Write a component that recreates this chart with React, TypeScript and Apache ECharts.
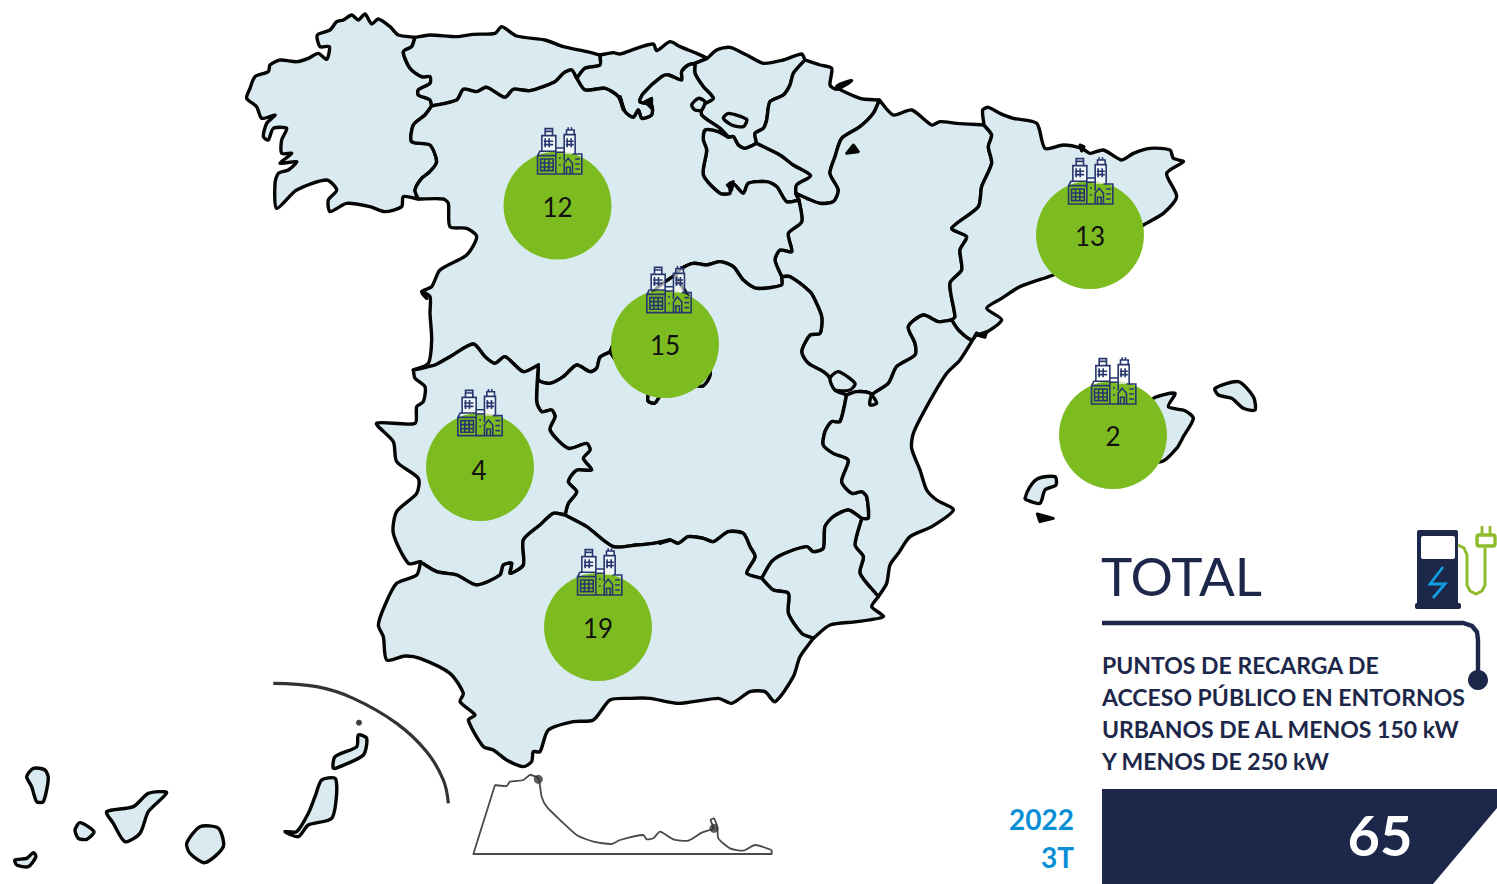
import React, { useEffect, useRef } from "react";
import * as echarts from "echarts";

type Pt = number[];
const at = (ox: number, oy: number, pts: number[][]): Pt[] => pts.map(([x, y]) => [ox + x / 3, oy + y / 3]);
const rev = (a: Pt[]) => [...a].reverse();

// ---------- values ----------
const regionNames = ["Castilla y León", "Comunidad de Madrid", "Cataluña", "Islas Baleares", "Extremadura", "Andalucía"];
const bubbleValues = [12, 15, 13, 2, 4, 19];
const bubbleX = [557.5, 665, 1090, 1113, 480, 598];
const bubbleY = [205.5, 344, 235, 435, 467, 627];
const iconX = [559.7, 669, 1090.7, 1113.7, 480, 599.7];
const iconY = [151, 289.7, 181, 381, 412.7, 572];
const totalValue = 65;
const periodLabels = ["2022", "3T"];
const titleLines = ["PUNTOS DE RECARGA DE", "ACCESO PÚBLICO EN ENTORNOS", "URBANOS DE AL MENOS 150 kW", "Y MENOS DE 250 kW"];

// ---------- map borders, traced in page-scaled crops ----------
const A = (p: number[][]) => at(230, 0, p);
const B = (p: number[][]) => at(620, 30, p);
const C = (p: number[][]) => at(930, 90, p);
const D = (p: number[][]) => at(360, 270, p);
const E = (p: number[][]) => at(660, 300, p);
const F = (p: number[][]) => at(360, 530, p);
const G = (p: number[][]) => at(0, 670, p);

const galCoast = A([[555,112],[505,105],[480,80],[445,57],[425,72],[405,42],[385,60],[365,45],[340,60],[320,65],[300,90],[262,105],[270,140],[298,140],[290,178],[265,160],[235,175],[200,185],[150,180],[120,195],[115,215],[75,230],[60,265],[50,295],[80,320],[95,355],[135,345],[110,370],[100,410],[115,420],[130,385],[170,385],[155,420],[155,460],[185,460],[150,490],[200,485],[175,510],[145,520],[135,550],[140,625],[200,570],[290,540],[320,570],[295,600],[300,635],[350,610],[420,620],[465,635],[515,620],[520,590],[565,597]]);
const galAst = A([[555,112],[545,140],[520,155],[540,205],[575,230],[600,230],[600,250],[565,270],[565,285],[600,300],[605,318]]);
const galCyl = A([[605,318],[585,345],[550,375],[545,425],[600,435],[620,485],[600,515],[575,535],[555,570],[565,597]]);
const astCyl = A([[605,318],[680,300],[700,268],[740,275],[770,262],[825,292],[850,268],[900,272],[975,245],[1000,220],[1025,210],[1040,235]]);
const astCan = A([[1040,235],[1065,205],[1110,195],[1110,165]]);
const astCoast = A([[1110,165],[1070,155],[1000,140],[945,120],[860,108],[815,80],[795,100],[730,103],[680,110],[600,105],[555,112]]);
const canCoast = [...A([[1110,165],[1150,158]]), ...B([[0,72],[50,55],[100,42],[110,62],[150,35],[180,50],[230,70],[262,85]])];
const canCyl = [...A([[1040,235],[1065,270],[1125,265],[1165,290],[1180,330]]), ...B([[0,200],[15,245],[40,262],[55,240],[65,265],[95,255],[95,225],[60,215],[70,190],[125,140],[145,135],[185,150],[185,125],[205,105],[225,100]])];
const canBasque = B([[225,100],[262,85]]);
const basqueCoast = B([[262,85],[290,60],[330,52],[380,75],[430,100],[490,90],[545,72],[555,90]]);
const basqueNav = B([[555,90],[520,130],[510,165],[490,195],[450,215],[440,270],[430,295],[405,310],[410,340]]);
const basqueRio = B([[410,340],[375,355],[355,345],[340,320],[325,322]]);
const basqueCyl = B([[225,100],[225,130],[250,170],[280,205],[250,225],[245,255],[300,295],[325,322]]);
const rioCyl = B([[325,322],[295,305],[255,300],[250,330],[260,360],[250,435],[300,490],[330,490],[330,460],[345,465],[370,490],[385,460],[440,455],[470,470],[500,515],[537,510]]);
const rioAra = B([[537,510],[527,490]]);
const rioNav = B([[527,490],[530,465],[572,437],[520,405],[480,375],[410,340]]);
const navCoast = B([[555,90],[600,105],[635,115],[630,165],[650,178],[695,152],[650,170],[720,205],[778,210]]);
const navAra = B([[778,210],[760,250],[720,290],[665,325],[645,380],[630,430],[655,480],[640,515],[600,520],[560,505],[527,490]]);
const araNorth = B([[778,210],[820,255],[875,240],[935,285],[960,275],[1010,280],[1092,285]]);
const araCat = [...B([[1092,285],[1115,315],[1105,350],[1115,400],[1085,470],[1075,530],[995,595],[1040,620],[1020,660],[1025,720],[990,760],[1005,860]]), ...E([[875,60]])];
const araVal = E([[875,60],[835,65],[790,45],[745,80],[765,130],[765,165],[710,200],[685,250],[635,285],[630,315],[650,310],[630,280],[590,275],[560,285]]);
const catCoast = [...B([[1092,285],[1088,240],[1105,232]]), ...C([[210,70],[250,85],[320,100],[345,175],[400,165],[455,175],[480,190],[520,180],[575,210],[610,190],[660,175],[720,180],[730,205],[760,215],[710,250],[740,320],[700,370],[640,405],[500,500],[370,555],[270,590],[215,625],[170,655],[215,690],[155,735]]), ...E([[950,100]])];
const catVal = E([[875,60],[895,90],[935,120],[950,100]]);
const cylAra = B([[537,510],[545,575],[505,610],[515,665],[480,660],[465,690],[485,740]]);
const araClm = [...B([[485,740],[510,740],[570,785]]), ...E([[465,0],[485,50],[480,100],[450,105],[425,155],[445,190],[490,215],[510,235],[525,270],[560,285]])];
const cylClmE = B([[485,740],[485,765],[410,775],[370,750],[340,710],[300,695],[260,705],[220,700],[185,715],[165,735]]);
const madNorth = [...B([[165,735],[110,775]]), [620, 330], ...D([[750,246]])];
const madSouth: Pt[] = [...D([[750,246]]), [625,372],[648,388],[648,401],[655,403],[661,395],[690,385],[703,386],[710,375],[708,340],[690,300],[675,275]];
const cylClmW = D([[750,246],[720,262],[710,295],[690,305],[650,285],[610,320],[570,340],[535,330],[535,285]]);
const cylExt = D([[535,285],[490,305],[435,260],[405,280],[375,260],[340,222],[270,260],[225,285],[160,300]]);
const cylPortugal = [...D([[160,300],[205,280],[215,210],[210,130],[210,80],[185,65]]), ...A([[590,895],[575,875],[605,860],[630,810],[710,765],[740,710],[710,685],[660,680],[655,610],[640,597],[565,597]])];
const extClm = D([[535,285],[530,395],[545,425],[575,420],[585,440],[570,480],[625,535],[680,520],[690,540],[670,565],[695,600],[650,600],[625,635],[650,665],[625,700],[615,735]]);
const extWest = D([[160,300],[165,325],[195,350],[190,395],[170,410],[165,460],[50,460],[100,515],[110,575],[175,625],[170,670],[110,725],[100,790],[145,880],[180,875]]);
const andExt = D([[180,875],[230,905],[290,915],[350,945],[420,915],[430,885],[455,880],[450,910],[490,885],[490,810],[540,765],[580,730],[615,735]]);
const clmAnd = [...D([[615,735],[680,770],[760,830],[830,825],[880,820],[930,810]]), ...E([[0,730],[30,720],[55,730],[85,710],[130,715],[160,725],[205,695],[250,700],[270,740],[285,770],[260,820],[305,835]])];
const clmVal = E([[560,285],[540,365],[515,365],[495,395],[490,435],[520,460],[565,480],[545,545],[575,580],[605,575],[620,590],[625,655],[605,655]]);
const clmMur = E([[305,835],[335,785],[370,762],[440,740],[460,755],[490,745],[495,680],[520,650],[565,630],[605,655]]);
const valCoast = E([[950,100],[900,180],[860,220],[800,320],[760,400],[755,445],[780,510],[800,570],[830,600],[880,630],[815,680],[750,710],[715,760],[690,795],[680,850],[655,890]]);
const valMur = E([[605,655],[585,735],[610,770],[600,820],[655,890]]);
const murCoast = E([[655,890],[635,920],[670,950],[590,965],[510,975],[460,1015]]);
const murAnd = E([[305,835],[340,870],[385,880],[385,940],[425,1000],[460,1015]]);
const andCoast = F([[1360,325],[1320,380],[1300,440],[1245,515],[1215,485],[1170,485],[1115,520],[1075,505],[955,520],[870,505],[810,505],[750,510],[700,570],[640,575],[565,600],[540,665],[520,665],[515,695],[490,710],[440,690],[400,660],[370,650],[325,570],[345,555],[300,515],[310,490],[270,430],[180,385],[135,378],[80,390],[70,320],[55,285],[75,225],[110,160],[170,135],[182,95]]);

const polygons: Pt[][] = [
  [...galCoast, ...rev(galCyl), ...rev(galAst)],
  [...astCoast, ...galAst, ...astCyl, ...astCan],
  [...canCoast, ...rev(canBasque), ...rev(canCyl), ...astCan],
  [...canBasque, ...basqueCoast, ...basqueNav, ...basqueRio, ...rev(basqueCyl)],
  [...rioCyl, ...rioAra, ...rioNav, ...basqueRio],
  [...navCoast, ...navAra, ...rioNav, ...rev(basqueNav)],
  [...araNorth, ...araCat, ...araVal, ...rev(araClm), ...rev(cylAra), ...rioAra, ...rev(navAra)],
  [...catCoast, ...rev(catVal), ...rev(araCat)],
  [...astCyl, ...canCyl, ...basqueCyl, ...rioCyl, ...cylAra, ...cylClmE, ...madNorth, ...cylClmW, ...cylExt, ...cylPortugal, ...rev(galCyl)],
  [...rev(cylClmE), ...araClm, ...clmVal, ...rev(clmMur), ...rev(clmAnd), ...rev(extClm), ...rev(cylClmW), ...madSouth],
  [...madNorth, ...madSouth],
  [...extClm, ...rev(andExt), ...rev(extWest), ...rev(cylExt)],
  [...valCoast, ...rev(valMur), ...rev(clmVal), ...rev(araVal), ...catVal],
  [...clmMur, ...valMur, ...murCoast, ...rev(murAnd)],
  [...murAnd, ...andCoast, ...andExt, ...clmAnd],
  // small enclaves and islands
  B([[310,265],[325,250],[380,268],[370,290],[335,285]]),
  B([[215,225],[235,205],[255,215],[245,240],[225,240]]),
  E([[510,235],[535,215],[585,250],[570,270],[525,270]]),
  C([[670,925],[735,910],[715,950],[765,962],[790,985],[760,1040],[740,1075],[695,1115],[600,1100],[590,1000]]),
  C([[855,895],[925,875],[970,920],[975,960],[940,955],[905,925],[865,915]]),
  C([[285,1225],[300,1190],[325,1165],[375,1160],[378,1185],[345,1200],[330,1240],[290,1230]]),
  G([[80,320],[100,295],[135,300],[145,325],[130,395],[110,395],[95,350]]),
  G([[225,480],[240,458],[282,485],[260,508],[235,505]]),
  G([[45,570],[80,565],[100,548],[108,560],[85,590],[50,585]]),
  G([[320,425],[400,410],[445,370],[500,368],[445,425],[420,490],[375,515],[340,460]]),
  G([[600,470],[655,475],[670,530],[615,578],[570,550],[560,520]]),
  G([[965,330],[1005,325],[1010,370],[995,445],[925,465],[895,500],[855,485],[890,485],[925,430],[945,380]]),
  G([[1000,295],[1005,260],[1070,230],[1075,195],[1100,205],[1090,255],[1020,290]]),
];
const blobs: Pt[][] = [
  B([[680,370],[700,345],[715,365]]),
  C([[450,165],[462,170],[455,183]]),
  C([[140,735],[170,725],[165,742]]),
  C([[322,1272],[370,1285],[330,1295]]),
  B([[75,215],[95,205],[95,235]]),
  B([[322,465],[340,455],[335,480]]),
];
const canaryArc = G([[820,40],[950,50],[1060,85],[1190,160],[1280,245],[1330,330],[1345,400]]);
const ceutaMelilla = F([[405,765],[440,768],[450,755],[490,750],[510,735],[535,745],[545,800],[560,830],[600,870],[650,915],[700,935],[755,942],[780,930],[850,915],[860,928],[880,925],[900,905],[940,928],[985,932],[1025,908],[1060,895],[1052,870],[1062,865],[1072,890],[1075,925],[1110,955],[1150,962],[1185,945],[1235,960]]);
const ceutaBase = F([[1235,960],[1235,972],[340,972],[405,765]]);
const ceutaDots = F([[535,748],[1062,895]]);
const graciosaDot = G([[1077,158]]);

const towersPath = "M16 72 L16 25 L26 25 L26 4 L48 4 L48 25 L58 25 L58 62 L83 62 L83 22 L90 22 L90 8 L113 8 L113 22 L116 22 L116 80 L83 80 L58 72 Z";
const iconPath = "M16 72 L16 25 L26 25 L26 4 L48 4 L48 25 L58 25 L58 72 M16 25 L58 25 M26 12 L48 12 M83 62 L83 22 L90 22 L90 8 L113 8 L113 22 L116 22 L116 80 M83 22 L116 22 M95 8 L95 0 M105 8 L105 0 M3 140 L3 85 L10 72 L58 72 L58 140 Z M3 85 L58 85 M12 95 L50 95 L50 130 L12 130 Z M12 107 L50 107 M12 119 L50 119 M24 95 L24 130 M37 95 L37 130 M58 62 L83 62 L83 100 M58 75 L83 75 M83 140 L83 108 L95 93 L108 108 L108 140 M90 120 L101 120 L101 140 L90 140 Z M108 80 L136 80 L136 140 L108 140 M3 140 L136 140 M26 33 L26 60 M38 33 L38 60 M22 42 L50 42 M22 52 L50 52 M92 33 L92 60 M104 33 L104 60 M88 42 L112 42 M88 52 L112 52 M116 95 L130 95 M116 110 L130 110 M116 125 L130 125 M70 90 L70 95 M70 110 L70 115";
echarts.graphic.registerShape("buildingFill", echarts.graphic.extendPath(towersPath, {}) as any);
echarts.graphic.registerShape("buildingLine", echarts.graphic.extendPath(iconPath, {}) as any);

const NAVY = "#1c2749";
const BLUE = "#0a8fd6";
const GREEN = "#8dbb2a";
const FONT = "Lato, 'Noto Sans', sans-serif";
const MAP_FILL = "#d9ebf0";

function polyRender(list: Pt[][], style: any, closed: boolean, smooth: any = 0) {
  return (params: any, api: any) => {
    const i = params.dataIndex;
    const pts = list[i].map((p) => api.coord(p));
    return { type: closed ? "polygon" : "polyline", shape: { points: pts, smooth: Array.isArray(smooth) ? smooth[i] : smooth }, style };
  };
}

export default function App() {
  const ref = useRef<HTMLDivElement>(null);
  useEffect(() => {
    const chart = echarts.init(ref.current!, null, { renderer: "svg" });
    const text = (x: number, y: number, t: string, font: string, fill: string, align = "left") => ({
      type: "text", x, y, silent: true, style: { text: t, font, fill, textAlign: align, textVerticalAlign: "middle" },
    });
    chart.setOption({
      animation: false,
      backgroundColor: "#ffffff",
      grid: { left: 0, right: 0, top: 0, bottom: 0 },
      xAxis: { type: "value", min: 0, max: 1497, show: false },
      yAxis: { type: "value", min: 0, max: 884, inverse: true, show: false },
      series: [
        {
          name: "Regiones", type: "custom", coordinateSystem: "cartesian2d", z: 2, silent: true,
          data: polygons.map((_, i) => [i]),
          renderItem: polyRender(polygons, { fill: MAP_FILL, stroke: "#050505", lineWidth: 3.4, lineJoin: "round" }, true, 0.25),
        },
        {
          name: "Detalles", type: "custom", coordinateSystem: "cartesian2d", z: 3, silent: true,
          data: blobs.map((_, i) => [i]),
          renderItem: polyRender(blobs, { fill: "#050505", stroke: "#050505", lineWidth: 3, lineJoin: "round" }, true),
        },
        {
          name: "Arco", type: "custom", coordinateSystem: "cartesian2d", z: 3, silent: true,
          data: [[0]],
          renderItem: polyRender([canaryArc], { fill: "none", stroke: "#333333", lineWidth: 3.2 }, false, 0.4),
        },
        {
          name: "Ceuta y Melilla", type: "custom", coordinateSystem: "cartesian2d", z: 3, silent: true,
          data: [[0], [1]],
          renderItem: polyRender([ceutaMelilla, ceutaBase], { fill: "none", stroke: "#4a4a4a", lineWidth: 1.8, lineJoin: "round" }, false, [0.2, 0]),
        },
        {
          name: "Puntos Ceuta", type: "scatter", z: 4, silent: true, symbolSize: 9,
          itemStyle: { color: "#333333" }, data: ceutaDots,
        },
        {
          name: "La Graciosa", type: "scatter", z: 4, silent: true, symbolSize: 6,
          itemStyle: { color: "#111111" }, data: graciosaDot,
        },
        {
          name: "Puntos de recarga", type: "scatter", z: 5, silent: true, symbolSize: 108,
          itemStyle: { color: "#7dbc20", opacity: 1 },
          label: {
            show: true, position: "inside", formatter: (p: any) => String(p.value[2]),
            fontFamily: FONT, fontSize: 26, color: "#111111",
          },
          data: bubbleValues.map((v, i) => ({
            value: [bubbleX[i], bubbleY[i], v],
            label: v === 4 ? { offset: [-1, 3] } : { offset: [0, 1] },
          })),
        },
        {
          name: "Entornos urbanos", type: "custom", coordinateSystem: "cartesian2d", z: 6, silent: true,
          data: iconX.map((x, i) => [x, iconY[i]]),
          renderItem: (_: any, api: any) => {
            const [px, py] = api.coord([api.value(0), api.value(1)]);
            const s = 1 / 3;
            const place = { x: px - 69.5 * s, y: py - 71 * s, scaleX: s, scaleY: s };
            return {
              type: "group",
              children: [
                { type: "buildingFill", ...place, style: { fill: "rgba(255,255,255,0.62)" } },
                { type: "buildingLine", ...place, style: { fill: "none", stroke: "#28366f", lineWidth: 4.8 } },
              ],
            };
          },
        },
      ],
      graphic: [
        text(1101, 575, "TOTAL", `400 53px ${FONT}`, NAVY),
        { type: "polyline", silent: true, shape: { points: [[1102, 623], [1463, 623], [1472, 626], [1477, 632], [1478, 640], [1478, 680]] }, style: { fill: "none", stroke: NAVY, lineWidth: 4.4 } },
        { type: "circle", silent: true, shape: { cx: 1478, cy: 680, r: 10 }, style: { fill: NAVY } },
        ...titleLines.map((t, i) => text(1102, 664.5 + i * 32, t, `700 23px ${FONT}`, NAVY)),
        { type: "polygon", silent: true, shape: { points: [[1102, 789], [1497, 789], [1497, 808], [1433, 884], [1102, 884]] }, style: { fill: NAVY } },
        text(1380, 834, String(totalValue), `700 56px ${FONT}`, "#ffffff", "center"),
        text(1074, 819, periodLabels[0], `700 28px ${FONT}`, BLUE, "right"),
        text(1074, 857, periodLabels[1], `700 28px ${FONT}`, BLUE, "right"),
        // charging station icon
        { type: "rect", silent: true, shape: { x: 1417, y: 530, width: 41, height: 76, r: 2 }, style: { fill: NAVY } },
        { type: "rect", silent: true, shape: { x: 1415, y: 603, width: 46, height: 6, r: 2 }, style: { fill: NAVY } },
        { type: "rect", silent: true, shape: { x: 1421, y: 536, width: 34, height: 23, r: 2 }, style: { fill: "#ffffff" } },
        { type: "polyline", silent: true, shape: { points: [[1443, 567], [1430, 584], [1445, 584], [1433, 598]] }, style: { fill: "none", stroke: "#0f9ddf", lineWidth: 2.8 } },
        { type: "polyline", silent: true, shape: { points: [[1458, 545], [1464, 548], [1467, 555], [1467, 585], [1470, 591], [1476, 594], [1482, 591], [1485, 585], [1485, 548]] }, style: { fill: "none", stroke: GREEN, lineWidth: 3 } },
        { type: "rect", silent: true, shape: { x: 1477, y: 535, width: 18, height: 11, r: 2 }, style: { fill: "#ffffff", stroke: GREEN, lineWidth: 3.4 } },
        { type: "line", silent: true, shape: { x1: 1482, y1: 526, x2: 1482, y2: 534 }, style: { stroke: GREEN, lineWidth: 2.8 } },
        { type: "line", silent: true, shape: { x1: 1490, y1: 526, x2: 1490, y2: 534 }, style: { stroke: GREEN, lineWidth: 2.8 } },
      ],
    });
    return () => chart.dispose();
  }, []);
  return <div ref={ref} role="img" aria-label={regionNames.join(", ")} style={{ position: "absolute", left: 0, top: 0, width: 1497, height: 884 }} />;
}
